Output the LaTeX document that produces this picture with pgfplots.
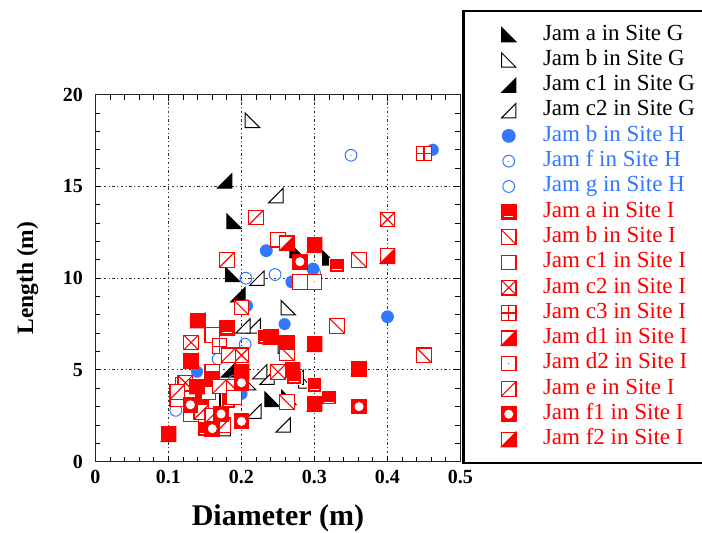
\documentclass[border=0pt]{standalone}
\usepackage{fontspec}
\setmainfont{Liberation Serif}
\usepackage{pgfplots}
\pgfplotsset{compat=1.18}

\definecolor{jamblue}{RGB}{51,119,255}
\definecolor{jamred}{RGB}{255,0,0}

% s = \pgfplotmarksize (half side of the marker)
% right triangle with the right angle at the lower left
\pgfdeclareplotmark{triA}{%
  \pgfpathmoveto{\pgfpoint{-\pgfplotmarksize}{\pgfplotmarksize}}%
  \pgfpathlineto{\pgfpoint{-\pgfplotmarksize}{-\pgfplotmarksize}}%
  \pgfpathlineto{\pgfpoint{\pgfplotmarksize}{-\pgfplotmarksize}}%
  \pgfpathclose\pgfusepathqfillstroke}
% right triangle with the right angle at the lower right
\pgfdeclareplotmark{triC}{%
  \pgfpathmoveto{\pgfpoint{-\pgfplotmarksize}{-\pgfplotmarksize}}%
  \pgfpathlineto{\pgfpoint{\pgfplotmarksize}{-\pgfplotmarksize}}%
  \pgfpathlineto{\pgfpoint{\pgfplotmarksize}{\pgfplotmarksize}}%
  \pgfpathclose\pgfusepathqfillstroke}
% circle with a centre dot
\pgfdeclareplotmark{odot}{%
  \pgfpathcircle{\pgfpointorigin}{\pgfplotmarksize}\pgfusepathqfillstroke
  \pgfpathcircle{\pgfpointorigin}{0.6pt}\pgfsetfillcolor{jamblue}\pgfusepathqfill}
% squares
\def\jamsq{\pgfpathrectangle{\pgfpoint{-\pgfplotmarksize}{-\pgfplotmarksize}}{\pgfpoint{2\pgfplotmarksize}{2\pgfplotmarksize}}}
\pgfdeclareplotmark{sqO}{\jamsq\pgfusepathqfillstroke}
\pgfdeclareplotmark{sqA}{\jamsq\pgfsetfillcolor{jamred}\pgfusepathqfillstroke
  \pgfsetstrokecolor{white}\pgfsetlinewidth{0.7pt}%
  \pgfpathmoveto{\pgfpoint{-0.65\pgfplotmarksize}{-0.6\pgfplotmarksize}}%
  \pgfpathlineto{\pgfpoint{0.65\pgfplotmarksize}{-0.6\pgfplotmarksize}}\pgfusepathqstroke}
\pgfdeclareplotmark{sqB}{\jamsq\pgfusepathqfillstroke
  \pgfpathmoveto{\pgfpoint{-\pgfplotmarksize}{\pgfplotmarksize}}%
  \pgfpathlineto{\pgfpoint{\pgfplotmarksize}{-\pgfplotmarksize}}\pgfusepathqstroke}
\pgfdeclareplotmark{sqE}{\jamsq\pgfusepathqfillstroke
  \pgfpathmoveto{\pgfpoint{-\pgfplotmarksize}{-\pgfplotmarksize}}%
  \pgfpathlineto{\pgfpoint{\pgfplotmarksize}{\pgfplotmarksize}}\pgfusepathqstroke}
\pgfdeclareplotmark{sqX}{\jamsq\pgfusepathqfillstroke
  \pgfpathmoveto{\pgfpoint{-\pgfplotmarksize}{\pgfplotmarksize}}%
  \pgfpathlineto{\pgfpoint{\pgfplotmarksize}{-\pgfplotmarksize}}%
  \pgfpathmoveto{\pgfpoint{-\pgfplotmarksize}{-\pgfplotmarksize}}%
  \pgfpathlineto{\pgfpoint{\pgfplotmarksize}{\pgfplotmarksize}}\pgfusepathqstroke}
\pgfdeclareplotmark{sqP}{\jamsq\pgfusepathqfillstroke
  \pgfpathmoveto{\pgfpoint{-\pgfplotmarksize}{0pt}}%
  \pgfpathlineto{\pgfpoint{\pgfplotmarksize}{0pt}}%
  \pgfpathmoveto{\pgfpoint{0pt}{-\pgfplotmarksize}}%
  \pgfpathlineto{\pgfpoint{0pt}{\pgfplotmarksize}}\pgfusepathqstroke}
\pgfdeclareplotmark{sqH}{\jamsq\pgfusepathqfillstroke
  \pgfpathmoveto{\pgfpoint{\pgfplotmarksize}{\pgfplotmarksize}}%
  \pgfpathlineto{\pgfpoint{\pgfplotmarksize}{-\pgfplotmarksize}}%
  \pgfpathlineto{\pgfpoint{-\pgfplotmarksize}{-\pgfplotmarksize}}%
  \pgfpathclose\pgfsetfillcolor{jamred}\pgfusepathqfillstroke}
\pgfdeclareplotmark{sqD}{\jamsq\pgfusepathqfillstroke
  \pgfpathcircle{\pgfpointorigin}{0.6pt}\pgfsetfillcolor{jamred}\pgfusepathqfill}
\pgfdeclareplotmark{sqF}{\jamsq\pgfsetfillcolor{jamred}\pgfusepathqfillstroke
  \pgfpathcircle{\pgfpointorigin}{0.62\pgfplotmarksize}\pgfsetfillcolor{white}\pgfusepathqfill}

\pgfplotsset{
  gmark/.style={only marks, mark=#1, mark size=7.2pt,
    mark options={draw=black, fill=black, line width=1pt, solid}},
  gmarko/.style={only marks, mark=#1, mark size=7.2pt,
    mark options={draw=black, fill=white, line width=1pt, solid}},
  hmark/.style={only marks, mark=#1, mark size=5.9pt,
    mark options={draw=jamblue, fill=white, line width=1pt, solid}},
  imark/.style={only marks, mark=#1, mark size=7.3pt,
    mark options={draw=jamred, fill=white, line width=1.1pt, solid}},
}

\begin{document}
\begin{tikzpicture}[x=1pt,y=1pt]
\begin{axis}[
  scale only axis, width=365pt, height=367pt,
  xmin=0, xmax=0.5, ymin=0, ymax=20,
  xtick={0,0.1,0.2,0.3,0.4,0.5},
  xticklabels={0,0.1,0.2,0.3,0.4,0.5},
  ytick={0,5,10,15,20},
  minor x tick num=4, minor y tick num=4,
  tick align=inside,
  major tick length=6pt, minor tick length=5pt,
  every tick/.style={black, line width=0.9pt},
  axis line style={line width=1.4pt, black!85},
  grid=major,
  major grid style={black!80, line width=0.9pt, dash pattern=on 2.5pt off 2.5pt on 1pt off 2.5pt},
  /pgf/number format/assume math mode=true,
  ticklabel style={font=\fontsize{20}{22}\selectfont\bfseries},
  yticklabel style={xshift=-9pt},
  xticklabel style={yshift=-5pt},
  xlabel={Diameter (m)}, ylabel={Length (m)},
  every axis x label/.style={at={(axis description cs:0.5,-0.153)}, anchor=center,
    font=\fontsize{30}{32}\selectfont\bfseries},
  every axis y label/.style={at={(axis description cs:-0.186,0.5)}, anchor=center,
    rotate=90, font=\fontsize{23.5}{26}\selectfont\bfseries},
  legend style={at={(1.005,1.231)}, anchor=north west, draw=black,
    line width=2.2pt, fill=white, inner xsep=38pt, inner ysep=11pt,
    font=\fontsize{23}{27}\selectfont,
    cells={anchor=west},
    nodes={inner sep=0pt, text height=18pt, text depth=7.3pt},
    /tikz/every odd column/.append style={column sep=27pt}},
]
% Site G
\addplot[gmark=triA] coordinates {(0.19,13.1) (0.188,10.2) (0.276,11.5) (0.321,11.1)
  (0.242,3.4) (0.265,3.5) (0.18,3.3)};
\addlegendentry{Jam a in Site G}
\addplot[gmarko=triA] coordinates {(0.215,18.6) (0.264,8.4) (0.288,4.4) (0.21,4.3) (0.26,6.3)};
\addlegendentry{Jam b in Site G}
\addplot[gmark=triC] coordinates {(0.177,15.3) (0.195,9.1) (0.182,5.0) (0.19,3.9)};
\addlegendentry{Jam c1 in Site G}
\addplot[gmarko=triC] coordinates {(0.247,14.5) (0.221,10.0) (0.216,7.4) (0.202,7.4)
  (0.225,4.9) (0.217,2.75) (0.257,2.0) (0.175,1.8) (0.235,4.6) (0.275,4.6)};
\addlegendentry{Jam c2 in Site G}
% Site H
\addplot[only marks, mark=*, mark size=5.8pt, mark options={draw=jamblue, fill=jamblue}]
  coordinates {(0.462,17.0) (0.259,7.5) (0.139,4.9) (0.2,3.7)};
\addlegendentry{\textcolor{jamblue}{Jam b in Site H}}
\addplot[hmark=odot] coordinates {(0.35,16.7) (0.4,7.9) (0.234,11.5) (0.298,10.5)
  (0.269,9.8) (0.207,8.5)};
\addlegendentry{\textcolor{jamblue}{Jam f in Site H}}
\addplot[hmark=o] coordinates {(0.246,10.2) (0.206,10.0) (0.205,6.4) (0.168,5.6)
  (0.11,2.8) (0.3,10.3) (0.19,4.4)};
\addlegendentry{\textcolor{jamblue}{Jam g in Site H}}
% Site I
\addplot[imark=sqA] coordinates {(0.18,7.3) (0.146,3.35) (0.182,3.3) (0.15,1.8)
  (0.331,10.7) (0.3,4.2) (0.32,3.5) (0.272,4.6) (0.232,6.8)};
\addlegendentry{\textcolor{jamred}{Jam a in Site I}}
\addplot[imark=sqB] coordinates {(0.361,11.0) (0.331,7.4) (0.262,5.9) (0.45,5.8)
  (0.188,4.1) (0.2,8.4) (0.262,3.25)};
\addlegendentry{\textcolor{jamred}{Jam b in Site I}}
\addplot[imark=sqO] coordinates {(0.25,12.1) (0.16,6.9) (0.16,4.9) (0.112,3.4)
  (0.131,2.6) (0.28,9.8) (0.12,4.2) (0.19,3.5) (0.155,3.8)};
\addlegendentry{\textcolor{jamred}{Jam c1 in Site I}}
\addplot[imark=sqX] coordinates {(0.4,13.2) (0.131,6.5) (0.2,5.8) (0.123,4.3) (0.25,4.9)};
\addlegendentry{\textcolor{jamred}{Jam c2 in Site I}}
\addplot[imark=sqP] coordinates {(0.45,16.8) (0.17,6.3)};
\addlegendentry{\textcolor{jamred}{Jam c3 in Site I}}
\addplot[imark=sqH] coordinates {(0.4,11.2) (0.3,11.8) (0.14,7.7) (0.131,5.5)
  (0.2,4.9) (0.139,4.1) (0.1,1.5)};
\addlegendentry{\textcolor{jamred}{Jam d1 in Site I}}
\addplot[imark=sqD] coordinates {(0.3,9.8) (0.262,6.5) (0.16,4.5)};
\addlegendentry{\textcolor{jamred}{Jam d2 in Site I}}
\addplot[imark=sqE] coordinates {(0.22,13.3) (0.18,11.0) (0.182,5.8) (0.17,4.1)
  (0.112,3.8) (0.145,2.7) (0.16,2.5) (0.175,2.0)};
\addlegendentry{\textcolor{jamred}{Jam e in Site I}}
\addplot[imark=sqF] coordinates {(0.28,10.9) (0.2,4.3) (0.13,3.1) (0.16,1.8)
  (0.2,2.2) (0.361,3.0) (0.172,2.6)};
\addlegendentry{\textcolor{jamred}{Jam f1 in Site I}}
\addplot[imark=sqH] coordinates {(0.262,11.9) (0.3,6.4) (0.361,5.05) (0.3,3.15)
  (0.27,5.0) (0.24,6.8)};
\addlegendentry{\textcolor{jamred}{Jam f2 in Site I}}
\end{axis}
% page frame: 702 x 533 with the plot box at (95.5, 71.3)
\pgfresetboundingbox
\path[use as bounding box] (current axis.south west) ++(-95.5,-71.3) rectangle ++(702,533);
\end{tikzpicture}
\end{document}
